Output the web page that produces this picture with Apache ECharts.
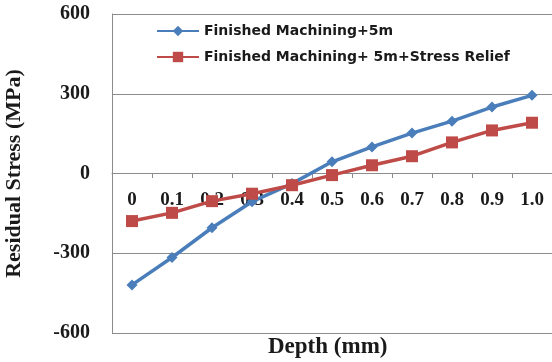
<!DOCTYPE html>
<html><head><meta charset="utf-8">
<script src="https://cdn.jsdelivr.net/npm/echarts@6/dist/echarts.min.js"></script>
<style>html,body{margin:0;padding:0;background:#fff}#c{width:552px;height:362px}</style>
</head><body><div id="c"></div>
<script>
const categories = ['0','0.1','0.2','0.3','0.4','0.5','0.6','0.7','0.8','0.9','1.0'];
const seriesNames = ['Finished Machining+5m', 'Finished Machining+ 5m+Stress Relief'];
const machined = [-419, -316, -204, -106, -38, 44, 100, 152, 197, 250, 294];
const relieved = [-179, -148, -104, -76, -44, -6, 31, 65, 117, 162, 191];
const yTicks = {min: -600, max: 600, interval: 300};

const chart = echarts.init(document.getElementById('c'), null, {renderer: 'canvas'});
chart.setOption({
  animation: false,
  grid: {left: 112, right: 0, top: 14, bottom: 29, containLabel: false, outerBoundsMode: 'none'},
  legend: {
    orient: 'vertical', left: 151, top: 19, itemWidth: 42, itemHeight: 13, itemGap: 12,
    textStyle: {fontFamily: 'DejaVu Sans', fontWeight: 'bold', fontSize: 14, color: '#1a1a1a'},
    data: seriesNames
  },
  xAxis: {
    type: 'category', data: categories, boundaryGap: true, position: 'bottom', offset: -160,
    axisLine: {onZero: false, lineStyle: {color: '#8c8c8c', width: 1}},
    axisTick: {show: true, length: 5, interval: 0, lineStyle: {color: '#8c8c8c'}},
    axisLabel: {interval: 0, margin: 18, fontFamily: 'Liberation Serif', fontWeight: 'bold', fontSize: 19, color: '#1a1a1a'},
    splitLine: {show: false}
  },
  yAxis: {
    type: 'value', min: yTicks.min, max: yTicks.max, interval: yTicks.interval,
    name: 'Residual Stress (MPa)', nameLocation: 'middle', nameGap: 87, nameRotate: 90,
    nameTextStyle: {fontFamily: 'Liberation Serif', fontWeight: 'bold', fontSize: 22, color: '#1a1a1a'},
    axisLine: {show: true, lineStyle: {color: '#8c8c8c'}},
    axisTick: {show: false},
    axisLabel: {margin: 22, fontFamily: 'Liberation Serif', fontWeight: 'bold', fontSize: 20, color: '#1a1a1a'},
    splitLine: {show: true, lineStyle: {color: '#8c8c8c', width: 1}}
  },
  graphic: [{
    type: 'text', left: 268, top: 336,
    style: {text: 'Depth (mm)', font: 'bold 23px "Liberation Serif"', fill: '#1a1a1a'}
  }],
  series: [
    {name: seriesNames[0], type: 'line', data: machined, symbol: 'diamond', symbolSize: 11,
     lineStyle: {color: '#4a7ebb', width: 3.5}, itemStyle: {color: '#4a7ebb'}},
    {name: seriesNames[1], type: 'line', data: relieved, symbol: 'rect', symbolSize: 12,
     lineStyle: {color: '#be4b48', width: 3.5}, itemStyle: {color: '#be4b48'}}
  ]
});
</script></body></html>
